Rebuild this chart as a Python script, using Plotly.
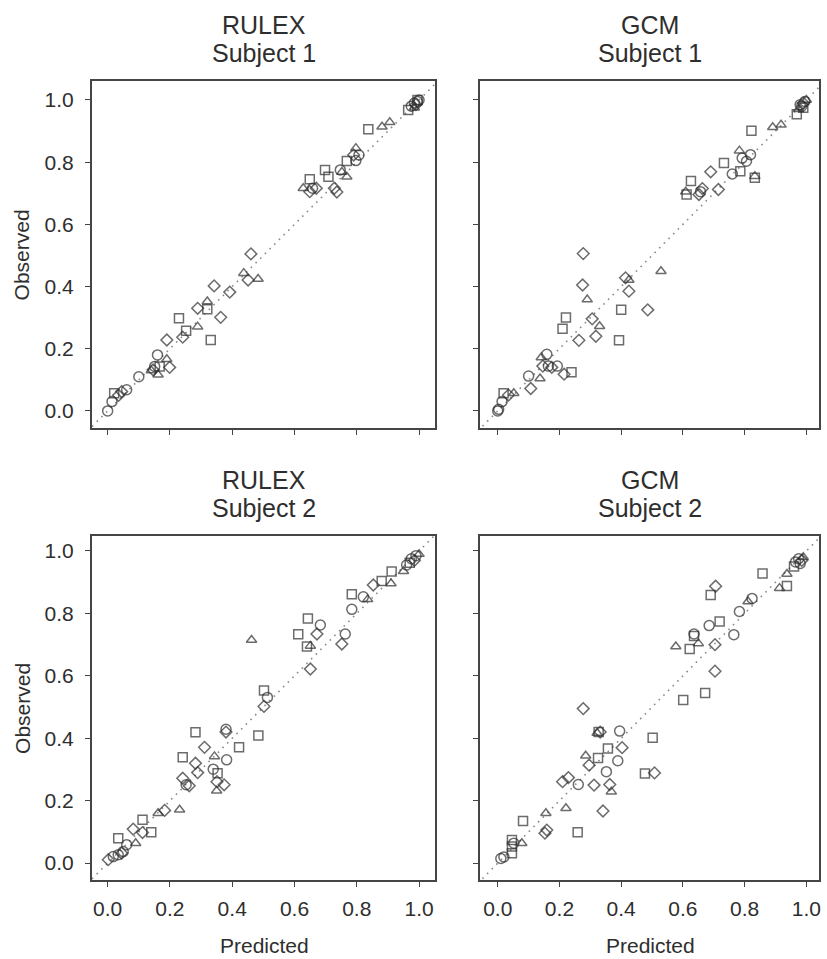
import plotly.graph_objects as go

# ---------------- data (predicted, observed, symbol) ----------------
# symbols: o = circle, s = square, d = diamond, t = triangle
rulex1_pred = [0.0, 0.014, 0.021, 0.035, 0.045, 0.061, 0.10, 0.16, 0.146, 0.162, 0.151, 0.167, 0.199, 0.19, 0.14,
               0.19, 0.241, 0.252, 0.229, 0.289, 0.331, 0.289, 0.32, 0.32, 0.363, 0.342, 0.392, 0.46, 0.437, 0.451,
               0.483, 0.628, 0.649, 0.649, 0.658, 0.67, 0.698, 0.709, 0.728, 0.736, 0.747, 0.752, 0.768, 0.768,
               0.797, 0.797, 0.79, 0.807, 0.837, 0.881, 0.906, 0.965, 0.975, 0.985, 0.99, 0.995, 1.0, 0.985, 0.995]
rulex1_obs = [0.0, 0.03, 0.057, 0.05, 0.062, 0.068, 0.11, 0.18, 0.132, 0.116, 0.143, 0.143, 0.14, 0.166, 0.13,
              0.228, 0.237, 0.258, 0.298, 0.271, 0.228, 0.33, 0.352, 0.327, 0.301, 0.402, 0.382, 0.505, 0.443, 0.421,
              0.424, 0.716, 0.745, 0.705, 0.716, 0.716, 0.775, 0.753, 0.716, 0.704, 0.775, 0.768, 0.753, 0.804,
              0.805, 0.845, 0.823, 0.823, 0.906, 0.914, 0.928, 0.968, 0.98, 0.99, 0.985, 1.0, 1.0, 0.975, 0.995]
rulex1_sym = ["o", "o", "s", "d", "d", "o", "o", "o", "d", "t", "o", "s", "d", "t", "t",
              "d", "d", "s", "s", "t", "s", "d", "t", "s", "d", "d", "d", "d", "t", "d",
              "t", "t", "s", "d", "o", "d", "s", "s", "d", "d", "o", "t", "t", "s",
              "o", "t", "d", "o", "s", "t", "t", "s", "o", "o", "d", "s", "o", "t", "o"]

gcm1_pred = [0.0, 0.003, 0.014, 0.019, 0.035, 0.052, 0.10, 0.107, 0.137, 0.141, 0.159, 0.146, 0.164, 0.175, 0.193,
             0.215, 0.239, 0.263, 0.21, 0.221, 0.277, 0.275, 0.29, 0.306, 0.318, 0.33, 0.40, 0.393, 0.414, 0.425,
             0.425, 0.486, 0.529, 0.609, 0.626, 0.612, 0.663, 0.652, 0.657, 0.69, 0.715, 0.733, 0.76, 0.786, 0.783,
             0.792, 0.806, 0.819, 0.822, 0.833, 0.833, 0.891, 0.918, 0.969, 0.975, 0.985, 0.99, 0.995, 1.0, 0.99, 0.98]
gcm1_obs = [0.0, 0.005, 0.03, 0.057, 0.051, 0.057, 0.112, 0.072, 0.104, 0.172, 0.182, 0.144, 0.144, 0.14, 0.144,
            0.118, 0.124, 0.227, 0.264, 0.30, 0.506, 0.405, 0.358, 0.296, 0.24, 0.272, 0.325, 0.227, 0.428, 0.421,
            0.385, 0.325, 0.449, 0.705, 0.739, 0.696, 0.715, 0.696, 0.705, 0.769, 0.712, 0.797, 0.762, 0.771, 0.837,
            0.813, 0.803, 0.824, 0.901, 0.755, 0.75, 0.912, 0.92, 0.954, 0.97, 0.98, 0.99, 0.995, 1.0, 0.975, 0.985]
gcm1_sym = ["o", "o", "o", "s", "d", "t", "o", "d", "t", "t", "o", "d", "o", "d", "o",
            "d", "s", "d", "s", "s", "d", "d", "t", "d", "d", "t", "s", "s", "d", "t",
            "d", "d", "t", "t", "s", "s", "d", "d", "o", "d", "d", "s", "o", "s", "t",
            "o", "o", "o", "s", "t", "s", "t", "t", "s", "t", "o", "d", "o", "t", "s", "o"]

rulex2_pred = [0.002, 0.018, 0.034, 0.045, 0.05, 0.061, 0.034, 0.09, 0.082, 0.112, 0.112, 0.14, 0.162, 0.183, 0.231,
               0.241, 0.241, 0.252, 0.262, 0.282, 0.289, 0.282, 0.311, 0.343, 0.339, 0.353, 0.351, 0.35, 0.374, 0.382,
               0.38, 0.38, 0.422, 0.484, 0.502, 0.513, 0.502, 0.462, 0.612, 0.643, 0.683, 0.672, 0.64, 0.651, 0.651,
               0.763, 0.752, 0.784, 0.784, 0.821, 0.835, 0.853, 0.88, 0.91, 0.912, 0.95, 0.96, 0.97, 0.975, 0.985,
               1.0, 0.99]
rulex2_obs = [0.011, 0.021, 0.027, 0.032, 0.037, 0.059, 0.08, 0.064, 0.109, 0.139, 0.098, 0.099, 0.16, 0.169, 0.171,
              0.339, 0.272, 0.251, 0.248, 0.32, 0.29, 0.419, 0.371, 0.342, 0.301, 0.288, 0.261, 0.232, 0.251, 0.331,
              0.429, 0.42, 0.371, 0.409, 0.553, 0.531, 0.502, 0.715, 0.733, 0.784, 0.763, 0.734, 0.694, 0.696, 0.622,
              0.734, 0.702, 0.813, 0.861, 0.853, 0.845, 0.891, 0.904, 0.896, 0.934, 0.935, 0.955, 0.962, 0.975, 0.97,
              0.99, 0.985]
rulex2_sym = ["d", "o", "o", "d", "o", "o", "s", "t", "d", "s", "d", "s", "t", "d", "t",
              "s", "d", "o", "d", "d", "d", "s", "d", "t", "o", "s", "d", "t", "d", "o",
              "o", "d", "s", "s", "s", "o", "d", "t", "s", "s", "o", "d", "s", "t", "d",
              "o", "d", "o", "s", "o", "t", "d", "s", "t", "s", "t", "o", "s", "o", "d",
              "t", "o"]

gcm2_pred = [0.01, 0.02, 0.046, 0.046, 0.046, 0.052, 0.078, 0.082, 0.156, 0.153, 0.159, 0.221, 0.259, 0.21, 0.229,
             0.261, 0.277, 0.285, 0.296, 0.312, 0.325, 0.322, 0.332, 0.327, 0.341, 0.352, 0.363, 0.368, 0.357, 0.389,
             0.403, 0.395, 0.477, 0.508, 0.502, 0.601, 0.672, 0.577, 0.622, 0.636, 0.636, 0.65, 0.685, 0.719, 0.704,
             0.704, 0.69, 0.706, 0.765, 0.783, 0.811, 0.824, 0.858, 0.913, 0.937, 0.937, 0.96, 0.965, 0.975, 0.985,
             0.99, 0.98]
gcm2_obs = [0.015, 0.02, 0.032, 0.053, 0.074, 0.064, 0.064, 0.135, 0.16, 0.096, 0.106, 0.176, 0.099, 0.261, 0.274,
            0.252, 0.495, 0.344, 0.314, 0.25, 0.337, 0.417, 0.42, 0.42, 0.167, 0.293, 0.252, 0.229, 0.367, 0.328,
            0.37, 0.423, 0.287, 0.289, 0.402, 0.523, 0.545, 0.694, 0.686, 0.734, 0.728, 0.704, 0.761, 0.774, 0.70,
            0.615, 0.859, 0.887, 0.732, 0.806, 0.838, 0.848, 0.928, 0.881, 0.888, 0.926, 0.95, 0.965, 0.975, 0.97,
            0.98, 0.96]
gcm2_sym = ["o", "o", "s", "s", "s", "o", "t", "s", "t", "d", "d", "t", "s", "d", "d",
            "o", "d", "t", "d", "d", "s", "t", "d", "s", "d", "o", "d", "t", "s", "o",
            "d", "o", "s", "d", "s", "s", "s", "t", "s", "o", "s", "t", "o", "s", "d",
            "d", "s", "d", "o", "o", "t", "o", "s", "t", "s", "t", "s", "o", "o", "d",
            "t", "o"]

model_names = ["RULEX", "GCM", "RULEX", "GCM"]
subject_names = ["Subject 1", "Subject 1", "Subject 2", "Subject 2"]
tick_values = [0.0, 0.2, 0.4, 0.6, 0.8, 1.0]
tick_labels = ["0.0", "0.2", "0.4", "0.6", "0.8", "1.0"]

panels = [(rulex1_pred, rulex1_obs, rulex1_sym),
          (gcm1_pred, gcm1_obs, gcm1_sym),
          (rulex2_pred, rulex2_obs, rulex2_sym),
          (gcm2_pred, gcm2_obs, gcm2_sym)]

# ---------------- styling ----------------
W, H = 827, 959
SYM = {"o": "circle-open", "s": "square-open", "d": "diamond-open", "t": "triangle-up-open"}
SIZE = {"o": 10, "s": 9, "d": 9, "t": 9}
MARK = "#2e2e2e"
FRAME = "#454545"
TXT = "#2e2e2e"
FONT = "Arial, Liberation Sans, sans-serif"

# panel frames in pixels (left, right, top, bottom)
px_x = [(92, 436), (481, 821), (92, 436), (481, 821)]
px_y = [(81, 428), (81, 428), (536, 880), (536, 880)]
x_ranges = [[-0.051, 1.051], [-0.058, 1.041], [-0.051, 1.051], [-0.058, 1.041]]
y_ranges = [[-0.055, 1.061], [-0.055, 1.061], [-0.054, 1.048], [-0.054, 1.048]]

fig = go.Figure()
layout = dict(width=W, height=H, margin=dict(l=0, r=0, t=0, b=0),
              paper_bgcolor="white", plot_bgcolor="white", showlegend=False,
              font=dict(family=FONT, color=TXT))
annotations = []

for i, (pred, obs, sym) in enumerate(panels):
    n = "" if i == 0 else str(i + 1)
    xa, ya = "x" + n, "y" + n
    # diagonal reference line
    fig.add_trace(go.Scatter(x=[-0.2, 1.2], y=[-0.2, 1.2], mode="lines",
                             line=dict(color="#8a8a8a", width=1.6, dash="1.6px,5px"),
                             xaxis=xa, yaxis=ya, hoverinfo="skip"))
    fig.add_trace(go.Scatter(x=pred, y=obs, mode="markers",
                             marker=dict(symbol=[SYM[s] for s in sym], size=[SIZE[s] for s in sym],
                                         color=MARK, line=dict(width=1.5, color=MARK)),
                             xaxis=xa, yaxis=ya))
    l, r = px_x[i]
    t, b = px_y[i]
    common = dict(showgrid=False, zeroline=False, showline=True, mirror=True, linecolor=FRAME,
                  linewidth=1.5, ticks="outside", ticklen=5, tickwidth=1.3, tickcolor=FRAME,
                  tickvals=tick_values, ticktext=tick_labels,
                  tickfont=dict(family=FONT, size=21, color=TXT))
    layout["xaxis" + n] = dict(common, domain=[l / W, r / W], range=x_ranges[i], anchor=ya,
                               showticklabels=(i >= 2), ticklabelstandoff=4)
    layout["yaxis" + n] = dict(common, domain=[1 - b / H, 1 - t / H], range=y_ranges[i], anchor=xa,
                               showticklabels=(i % 2 == 0), ticklabelstandoff=7)
    cx = (l + r) / 2 + 1
    annotations.append(dict(text=model_names[i], x=cx / W, y=1 - (t - 56) / H, xref="paper", yref="paper",
                            showarrow=False, xanchor="center", yanchor="middle",
                            font=dict(family=FONT, size=25, color=TXT)))
    annotations.append(dict(text=subject_names[i], x=cx / W, y=1 - (t - 28) / H, xref="paper", yref="paper",
                            showarrow=False, xanchor="center", yanchor="middle",
                            font=dict(family=FONT, size=25, color=TXT)))
    if i % 2 == 0:
        annotations.append(dict(text="Observed", x=22 / W, y=1 - ((t + b) / 2) / H, xref="paper", yref="paper",
                                showarrow=False, textangle=-90, xanchor="center", yanchor="middle",
                                font=dict(family=FONT, size=21, color=TXT)))
    if i >= 2:
        annotations.append(dict(text="Predicted", x=cx / W, y=1 - 945 / H, xref="paper", yref="paper",
                                showarrow=False, xanchor="center", yanchor="middle",
                                font=dict(family=FONT, size=21, color=TXT)))

layout["annotations"] = annotations
fig.update_layout(**layout)
fig.write_html("out.html", config={"displayModeBar": False},
               post_script="document.body.style.margin='0';document.body.style.overflow='hidden';")
